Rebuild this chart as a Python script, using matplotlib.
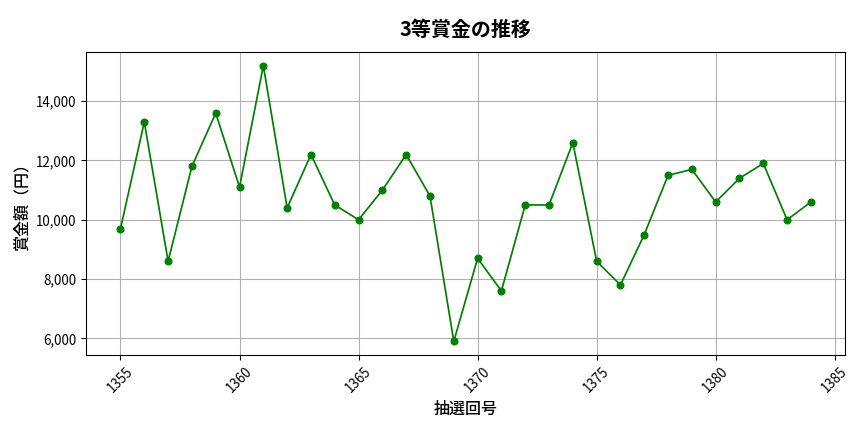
import numpy as np
import matplotlib
matplotlib.use('Agg')
from matplotlib import pyplot as plt
from matplotlib.ticker import FuncFormatter

plt.rcParams['font.family'] = ['Noto Sans CJK JP', 'DejaVu Sans']

draws = list(range(1355, 1385))
prizes = [9700, 13300, 8600, 11800, 13600, 11100, 15200, 10400, 12200, 10500,
          10000, 11000, 12200, 10800, 5900, 8700, 7600, 10500, 10500, 12600,
          8600, 7800, 9500, 11500, 11700, 10600, 11400, 11900, 10000, 10600]

fig = plt.figure(figsize=(9, 4.5), dpi=96)
ax = fig.add_axes([0.0995, 0.178, 0.879, 0.702])
ax.plot(draws, prizes, marker='o', color='green', markersize=5, linewidth=1.3)
ax.set_title('3等賞金の推移', fontsize=15, fontweight='bold', pad=12)
ax.set_xlabel('抽選回号', fontsize=12, fontweight='medium')
ax.set_ylabel('賞金額（円）', fontsize=12, fontweight='medium')
ax.yaxis.set_major_formatter(FuncFormatter(lambda v, p: '{:,.0f}'.format(v)))
ax.tick_params(axis='x', labelrotation=45)
ax.tick_params(labelsize=10)
ax.grid(True)
fig.savefig('out.png')
